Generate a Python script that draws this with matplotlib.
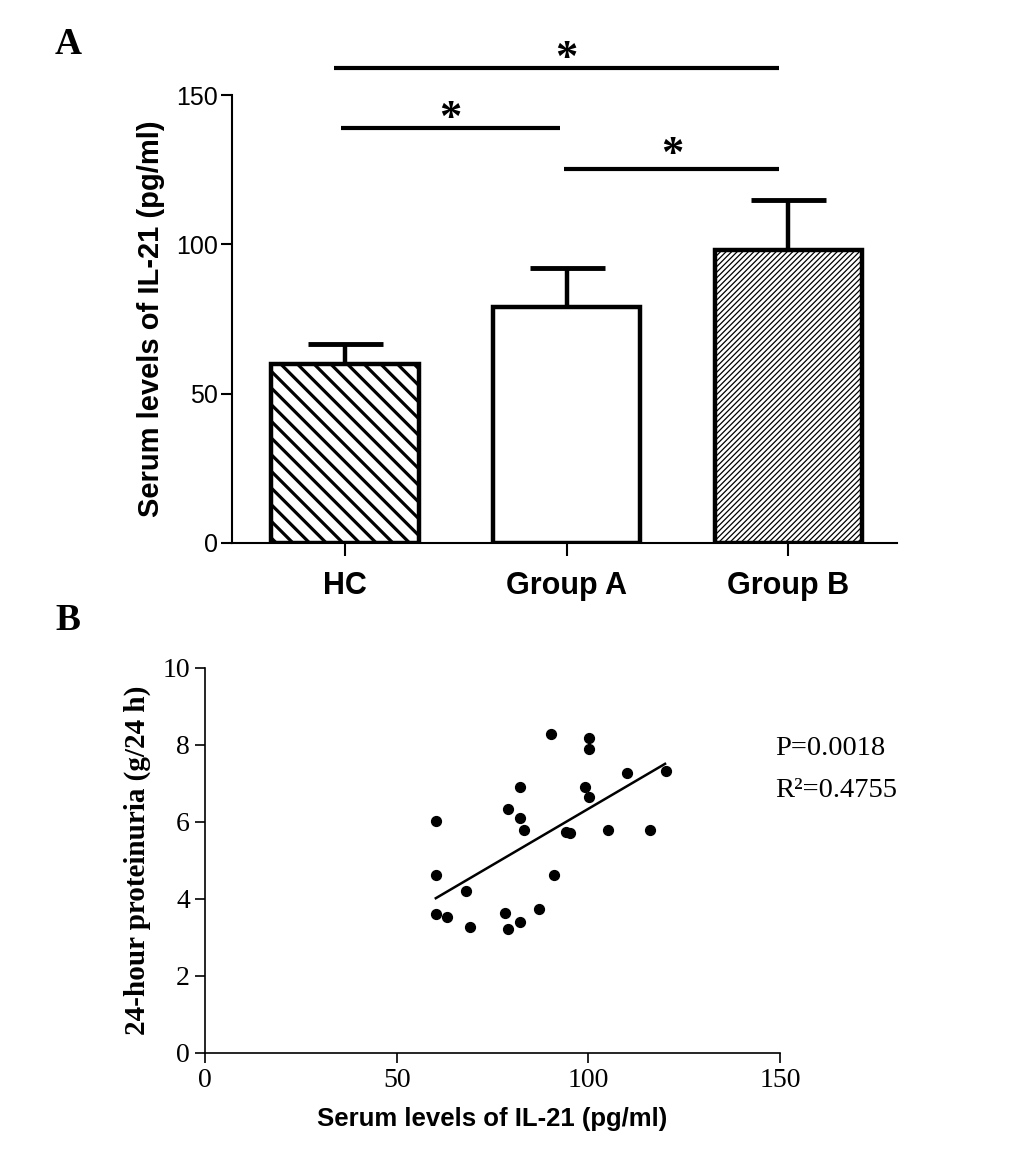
import numpy as np
import matplotlib
matplotlib.use("Agg")
import matplotlib.pyplot as plt

# Panel A: serum IL-21 por grupo
grupos = ['HC', 'Group A', 'Group B']
medias = [60, 79, 98]
errores = [6.5, 13, 16.7]
tramas = ['\\\\', '', '//////']
grosor_trama = [2.3, 1.0, 0.9]

# lineas de significancia (x inicio, x fin, y) y asteriscos (x, y)
sig_x0 = [-0.05, -0.02, 0.99]
sig_x1 = [1.96, 0.97, 1.96]
sig_y = [158.9, 138.8, 125.2]
ast_x = [1.0, 0.474, 1.475]
ast_y = [166.2, 146.0, 134.0]

# Panel B: IL-21 vs proteinuria
il21 = [90.2, 100.2, 100.2, 110.0, 120.2, 82.2, 99.1, 100.2, 79.1, 82.2,
        60.2, 83.1, 94.1, 95.2, 105.1, 116.2, 60.2, 91.0, 68.2, 60.2,
        63.1, 78.2, 87.2, 69.1, 79.1, 82.2]
proteinuria = [8.28, 8.17, 7.90, 7.26, 7.32, 6.90, 6.90, 6.65, 6.33, 6.11,
               6.03, 5.79, 5.75, 5.71, 5.79, 5.79, 4.61, 4.61, 4.20, 3.62,
               3.54, 3.63, 3.73, 3.27, 3.21, 3.39]
recta_x = [60.2, 120.0]
recta_y = [4.02, 7.51]

SANS = 'Liberation Sans'
SERIF = 'Liberation Serif'

fig = plt.figure(figsize=(10.33, 11.76), dpi=100)

# ---------------- Panel A ----------------
ax1 = fig.add_axes([0.2246, 0.5383, 0.6437, 0.3809])
x = np.arange(len(grupos))
ax1.errorbar(x, medias, yerr=[np.zeros(3), errores], fmt='none', ecolor='black',
             elinewidth=3.2, capsize=27, capthick=3.5, zorder=2)
for i in range(len(grupos)):
    with plt.rc_context({'hatch.linewidth': grosor_trama[i], 'hatch.color': 'black'}):
        b = ax1.bar(x[i], medias[i], width=0.665, color='white', edgecolor='black',
                    linewidth=3.2, hatch=tramas[i], zorder=3)
    try:
        b[0].set_hatch_linewidth(grosor_trama[i])
    except AttributeError:
        pass

fs_ast = 32
for i in range(3):
    ax1.plot([sig_x0[i], sig_x1[i]], [sig_y[i], sig_y[i]], color='black', lw=3,
             clip_on=False, solid_capstyle='butt')
    ax1.annotate('*', xy=(ast_x[i], ast_y[i]), xytext=(0, -0.52 * fs_ast),
                 textcoords='offset points', ha='center', va='baseline',
                 fontsize=fs_ast, family=SERIF, fontweight='bold',
                 annotation_clip=False)

ax1.set_xlim(-0.51, 2.49)
ax1.set_ylim(0, 150)
ax1.set_yticks([0, 50, 100, 150])
ax1.set_xticks(x)
ax1.set_xticklabels(grupos, family=SANS, fontweight='bold', fontsize=22)
for t in ax1.get_yticklabels():
    t.set_family(SANS)
    t.set_fontsize(18)
ax1.tick_params(axis='y', direction='out', length=8, width=1.5, pad=2)
ax1.tick_params(axis='x', direction='out', length=9, width=1.5, pad=11)
ax1.spines['top'].set_visible(False)
ax1.spines['right'].set_visible(False)
ax1.spines['left'].set_linewidth(1.5)
ax1.spines['bottom'].set_linewidth(1.5)
ax1.set_ylabel('Serum levels of IL-21 (pg/ml)', family=SANS, fontweight='bold',
               fontsize=21, labelpad=8)

# ---------------- Panel B ----------------
ax2 = fig.add_axes([0.1985, 0.1046, 0.5566, 0.3274])
ax2.scatter(il21, proteinuria, s=50, color='black', zorder=3)
ax2.plot(recta_x, recta_y, color='black', lw=1.8)
ax2.set_xlim(0, 150)
ax2.set_ylim(0, 10)
ax2.set_xticks([0, 50, 100, 150])
ax2.set_yticks([0, 2, 4, 6, 8, 10])
for t in ax2.get_xticklabels() + ax2.get_yticklabels():
    t.set_family(SERIF)
    t.set_fontsize(20)
ax2.tick_params(direction='out', length=7, width=1.2, pad=4)
ax2.spines['top'].set_visible(False)
ax2.spines['right'].set_visible(False)
ax2.spines['left'].set_linewidth(1.2)
ax2.spines['bottom'].set_linewidth(1.2)
ax2.set_xlabel('Serum levels of IL-21 (pg/ml)', family=SANS, fontweight='bold',
               fontsize=18.5, labelpad=10)
ax2.set_ylabel('24-hour proteinuria (g/24 h)', family=SERIF, fontweight='bold',
               fontsize=21, labelpad=8)
ax2.text(148.7, 7.92, 'P=0.0018', family=SERIF, fontsize=20.5, ha='left', va='center',
         clip_on=False)
ax2.text(148.7, 6.83, 'R²=0.4755', family=SERIF, fontsize=20.5, ha='left',
         va='center', clip_on=False)

# letras de panel
fig.text(68 / 1033, 1 - 45 / 1176, 'A', family=SERIF, fontweight='bold', fontsize=27,
         ha='center', va='center')
fig.text(68 / 1033, 1 - 620 / 1176, 'B', family=SERIF, fontweight='bold', fontsize=27,
         ha='center', va='center')

plt.savefig('out.png', dpi=100)
